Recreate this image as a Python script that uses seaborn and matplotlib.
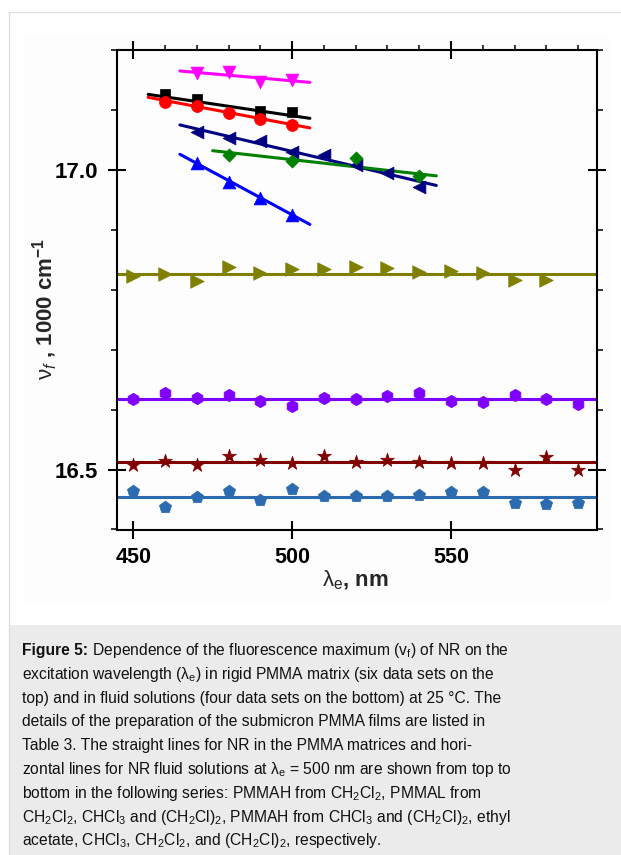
import matplotlib
matplotlib.use('Agg')
import matplotlib.pyplot as plt
from matplotlib.patches import Rectangle
from matplotlib.ticker import MultipleLocator, FixedLocator
import numpy as np
import pandas as pd
import seaborn as sns

# ---------------- data ----------------
# PMMA matrices (top six sets): points and fitted straight lines
pmmah_ch2cl2_x = [470, 480, 490, 500]
pmmah_ch2cl2_y = [17.161, 17.163, 17.146, 17.150]
pmmah_ch2cl2_fit_x = [464.7, 505.6]
pmmah_ch2cl2_fit_y = [17.165, 17.146]

pmmal_ch2cl2_x = [460, 470, 490, 500]
pmmal_ch2cl2_y = [17.126, 17.118, 17.098, 17.096]
pmmal_ch2cl2_fit_x = [454.7, 505.6]
pmmal_ch2cl2_fit_y = [17.126, 17.086]

pmmal_chcl3_x = [460, 470, 480, 490, 500]
pmmal_chcl3_y = [17.114, 17.106, 17.095, 17.085, 17.075]
pmmal_chcl3_fit_x = [454.7, 505.6]
pmmal_chcl3_fit_y = [17.121, 17.070]

pmmal_dce_x = [470, 480, 490, 500, 510, 520, 530, 540]
pmmal_dce_y = [17.064, 17.054, 17.049, 17.030, 17.025, 17.008, 16.994, 16.972]
pmmal_dce_fit_x = [464.7, 545.4]
pmmal_dce_fit_y = [17.075, 16.974]

pmmah_chcl3_x = [480, 500, 520, 540]
pmmah_chcl3_y = [17.025, 17.014, 17.020, 16.989]
pmmah_chcl3_fit_x = [475.0, 545.4]
pmmah_chcl3_fit_y = [17.032, 16.990]

pmmah_dce_x = [470, 480, 490, 500]
pmmah_dce_y = [17.011, 16.980, 16.953, 16.925]
pmmah_dce_fit_x = [464.7, 505.6]
pmmah_dce_fit_y = [17.026, 16.909]

# fluid solutions (bottom four sets): points and horizontal lines
solution_x = [450, 460, 470, 480, 490, 500, 510, 520, 530, 540, 550, 560, 570, 580, 590]
ethyl_acetate_x = solution_x[:14]
ethyl_acetate_y = [16.823, 16.827, 16.814, 16.838, 16.828, 16.834, 16.834,
                   16.838, 16.836, 16.830, 16.831, 16.828, 16.817, 16.817]
ethyl_acetate_level = 16.827

chcl3_y = [16.618, 16.627, 16.620, 16.625, 16.614, 16.606, 16.620, 16.617,
           16.623, 16.627, 16.615, 16.612, 16.624, 16.617, 16.610]
chcl3_level = 16.618

ch2cl2_y = [16.508, 16.514, 16.507, 16.523, 16.516, 16.511, 16.523, 16.512,
            16.516, 16.512, 16.511, 16.511, 16.500, 16.521, 16.499]
ch2cl2_level = 16.512

dce_y = [16.464, 16.437, 16.454, 16.464, 16.450, 16.468, 16.456, 16.456,
         16.456, 16.457, 16.462, 16.462, 16.444, 16.443, 16.444]
dce_level = 16.454

x_ticks = [450, 500, 550]
y_ticks = [16.5, 17.0]
x_limits = [444.8, 595.8]
y_limits = [16.4, 17.2]

caption_bold = "Figure 5:"
caption_lines = [
    " Dependence of the fluorescence maximum (v$_\\mathrm{f}$) of NR on the",
    "excitation wavelength (λ$_\\mathrm{e}$) in rigid PMMA matrix (six data sets on the",
    "top) and in fluid solutions (four data sets on the bottom) at 25 °C. The",
    "details of the preparation of the submicron PMMA films are listed in",
    "Table 3. The straight lines for NR in the PMMA matrices and hori-",
    "zontal lines for NR fluid solutions at λ$_\\mathrm{e}$ = 500 nm are shown from top to",
    "bottom in the following series: PMMAH from CH$_2$Cl$_2$, PMMAL from",
    "CH$_2$Cl$_2$, CHCl$_3$ and (CH$_2$Cl)$_2$, PMMAH from CHCl$_3$ and (CH$_2$Cl)$_2$, ethyl",
    "acetate, CHCl$_3$, CH$_2$Cl$_2$, and (CH$_2$Cl)$_2$, respectively.",
]

# ---------------- style ----------------
sns.set_style('ticks')
plt.rcParams['font.family'] = ['Liberation Sans', 'DejaVu Sans']
plt.rcParams['mathtext.fontset'] = 'custom'
plt.rcParams['mathtext.rm'] = 'Liberation Sans'
plt.rcParams['mathtext.it'] = 'Liberation Sans:italic'
plt.rcParams['mathtext.bf'] = 'Liberation Sans:bold'

W, H = 621, 855
fig = plt.figure(figsize=(W / 100, H / 100), dpi=100)
fig.patch.set_facecolor('white')


def fx(px):
    return px / W


def fy(py):
    return 1 - py / H


# page decorations
fig.add_artist(Rectangle((fx(25), fy(603)), fx(610) - fx(25), fy(35) - fy(603),
                         transform=fig.transFigure, facecolor='#fdfdfd', edgecolor='none', zorder=0))
fig.add_artist(Rectangle((fx(9), fy(855)), fx(621) - fx(9), fy(625) - fy(855),
                         transform=fig.transFigure, facecolor='#ebebeb', edgecolor='none', zorder=0))
fig.add_artist(Rectangle((fx(9), fy(870)), fx(640) - fx(9), fy(12) - fy(870),
                         transform=fig.transFigure, facecolor='none', edgecolor='#dcdcdc',
                         linewidth=0.9, zorder=1))

ax = fig.add_axes([fx(116.7), fy(529.5), fx(596.5) - fx(116.7), fy(50) - fy(529.5)])
ax.set_facecolor('none')

sloped = [
    (pmmah_ch2cl2_x, pmmah_ch2cl2_y, pmmah_ch2cl2_fit_x, pmmah_ch2cl2_fit_y, '#ff00ff', 'v', 85),
    (pmmal_ch2cl2_x, pmmal_ch2cl2_y, pmmal_ch2cl2_fit_x, pmmal_ch2cl2_fit_y, '#000000', 's', 60),
    (pmmal_chcl3_x, pmmal_chcl3_y, pmmal_chcl3_fit_x, pmmal_chcl3_fit_y, '#ff0000', 'o', 75),
    (pmmal_dce_x, pmmal_dce_y, pmmal_dce_fit_x, pmmal_dce_fit_y, '#000080', '<', 85),
    (pmmah_chcl3_x, pmmah_chcl3_y, pmmah_chcl3_fit_x, pmmah_chcl3_fit_y, '#008000', 'D', 45),
    (pmmah_dce_x, pmmah_dce_y, pmmah_dce_fit_x, pmmah_dce_fit_y, '#0000ff', '^', 85),
]
for px_, py_, fx_, fy_, col, mk, size in sloped:
    sns.lineplot(x=fx_, y=fy_, color=col, linewidth=2.2, ax=ax, zorder=2)
    sns.scatterplot(x=px_, y=py_, color=col, marker=mk, s=size, edgecolor=col,
                    linewidth=0.5, ax=ax, zorder=3, legend=False)

flat = [
    (ethyl_acetate_x, ethyl_acetate_y, ethyl_acetate_level, '#808000', '>', 95),
    (solution_x, chcl3_y, chcl3_level, '#8000ff', 'h', 80),
    (solution_x, ch2cl2_y, ch2cl2_level, '#800000', '*', 110),
    (solution_x, dce_y, dce_level, '#2c6bb0', 'p', 85),
]
for px_, py_, lvl, col, mk, size in flat:
    ax.axhline(lvl, color=col, linewidth=2.2, zorder=2)
    sns.scatterplot(x=px_, y=py_, color=col, marker=mk, s=size, edgecolor=col,
                    linewidth=0.5, ax=ax, zorder=3, legend=False)

ax.set_xlim(*x_limits)
ax.set_ylim(*y_limits)
ax.xaxis.set_major_locator(FixedLocator(x_ticks))
ax.xaxis.set_minor_locator(MultipleLocator(10))
ax.yaxis.set_major_locator(FixedLocator(y_ticks))
ax.yaxis.set_minor_locator(MultipleLocator(0.1))
ax.set_xticklabels([f"{v:d}" for v in x_ticks])
ax.set_yticklabels([f"{v:.1f}" for v in y_ticks])

for s in ax.spines.values():
    s.set_visible(True)
    s.set_linewidth(1.5)
    s.set_color('black')

ax.tick_params(which='major', direction='inout', length=12.5, width=1.5,
               top=True, right=True, bottom=True, left=True, colors='black')
ax.tick_params(axis='x', which='minor', direction='out', length=3.6, width=1.3,
               top=True, bottom=False)
ax.tick_params(axis='y', which='minor', direction='out', length=4.5, width=1.3,
               left=True, right=True)
ax.tick_params(axis='x', which='major', labelsize=15.5, pad=6.5)
ax.tick_params(axis='y', which='major', labelsize=16, pad=7)
for lab in ax.get_xticklabels() + ax.get_yticklabels():
    lab.set_fontweight('bold')

ax.set_xlabel('')
ax.set_ylabel('')
fig.text(fx(355), fy(580), r"$\mathrm{\lambda}_\mathrm{e}$, nm", ha='center', va='center',
         fontsize=16, fontweight='bold')
fig.text(fx(45), fy(309), r"$\mathrm{\nu}_f$ , 1000 cm$^{\mathbf{-1}}$", ha='center', va='center',
         rotation=90, fontsize=16, fontweight='bold')

# caption
renderer = fig.canvas.get_renderer()
cap_fs = 11.25
base0 = 655
t0 = fig.text(fx(22), fy(base0), caption_bold, fontsize=cap_fs, fontweight='bold',
              ha='left', va='baseline', color='#111111')
bb = t0.get_window_extent(renderer=renderer)
fig.text(bb.x1 / W, fy(base0), caption_lines[0], fontsize=cap_fs, ha='left', va='baseline',
         color='#111111')
for i, line in enumerate(caption_lines[1:], start=1):
    fig.text(fx(22), fy(base0 + 23.8 * i), line, fontsize=cap_fs, ha='left', va='baseline',
             color='#111111')

fig.savefig('out.png', dpi=100)
